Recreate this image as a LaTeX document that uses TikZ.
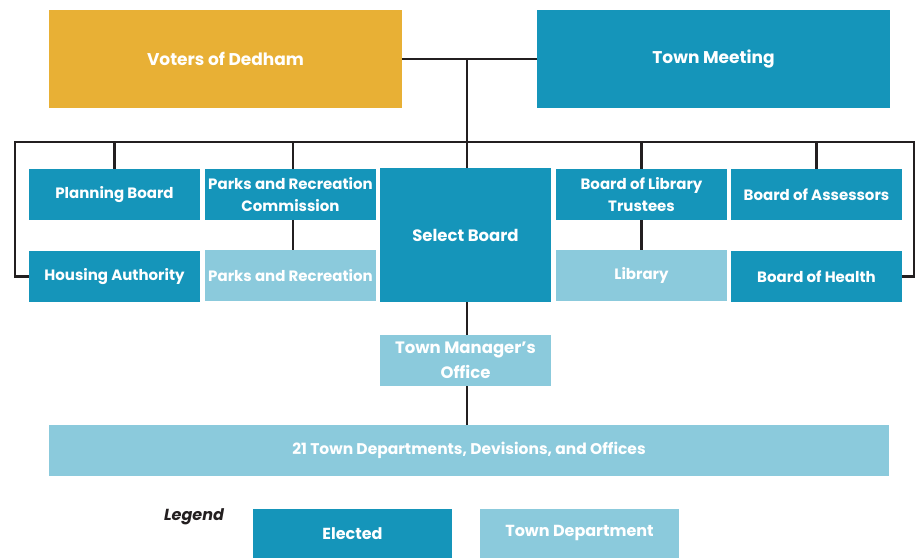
\documentclass[tikz,border=0pt]{standalone}
\usepackage{fontspec}
\setmainfont{Poppins}
\definecolor{elected}{HTML}{1595BA}
\definecolor{dept}{HTML}{8BCADC}
\definecolor{voters}{HTML}{E8B035}
\definecolor{wire}{HTML}{231F20}
\begin{document}
\begin{tikzpicture}[x=1pt,y=-1pt,
  box/.style={draw=none,text=white,font=\bfseries\fontsize{15}{22}\selectfont,align=center,inner sep=0pt},
  bigtext/.style={font=\bfseries\fontsize{16.5}{25}\selectfont},
  toptext/.style={font=\bfseries\fontsize{17}{20}\selectfont},
  electedbox/.style={box,fill=elected},
  deptbox/.style={box,fill=dept},
  wireline/.style={draw=wire,line width=2.4pt}]
\useasboundingbox (0,0) rectangle (919,558);
% a filled box from its corners, label centred
\newcommand{\orgbox}[7]{% name, style, x1, y1, x2, y2, text
  \node[#2,minimum width=#5-#3,minimum height=#6-#4] (#1) at ({(#3+#5)/2},{(#4+#6)/2}) {#7};}
\orgbox{voters}{box,fill=voters,toptext}{49}{10}{402}{108}{Voters of Dedham}
\orgbox{meeting}{electedbox,toptext}{537}{10}{890}{108}{Town Meeting}
\orgbox{planning}{electedbox}{29}{169}{200}{220}{Planning Board}
\orgbox{housing}{electedbox}{29}{251}{200}{302}{Housing Authority}
\orgbox{parkscom}{electedbox}{205}{169}{376}{220}{Parks and Recreation\\Commission}
\orgbox{parks}{deptbox}{205}{250}{376}{301}{Parks and Recreation}
\orgbox{select}{electedbox,bigtext}{380}{168}{551}{302}{Select Board}
\orgbox{trustees}{electedbox}{556}{169}{727}{220}{Board of Library\\Trustees}
\orgbox{library}{deptbox}{556}{250}{727}{301}{Library}
\orgbox{assessors}{electedbox}{731}{169}{902}{220}{Board of Assessors}
\orgbox{health}{electedbox}{731}{251}{902}{302}{Board of Health}
\orgbox{manager}{deptbox,bigtext}{380}{335}{551}{386}{Town Manager’s\\Office}
\orgbox{depts}{deptbox,font=\bfseries\fontsize{15.5}{18}\selectfont}{49}{425}{889}{476}{21 Town Departments, Devisions, and Offices}
\orgbox{legelected}{electedbox,font=\bfseries\fontsize{16}{18}\selectfont}{253}{509}{452}{558}{Elected}
\orgbox{legdept}{deptbox,font=\bfseries\fontsize{16}{18}\selectfont}{480}{509}{679}{558}{Town Department}
\node[font=\bfseries\itshape\fontsize{16}{18}\selectfont,text=wire,inner sep=0pt] (legend) at (194,517) {Legend};
% connectors: the spine runs slightly right of the box centres
\coordinate (spineTop) at ([xshift=1.5]select.north |- voters.east);
\coordinate (spineMid) at ([xshift=1.5]select.north);
\coordinate (spineLow) at ([xshift=1.5]select.south);
\coordinate (prc) at ([xshift=2.5]parkscom.north);
\coordinate (busL) at (15,142);
\coordinate (busR) at (914,142);
\draw[wireline] (voters.east) -- (meeting.west);
\draw[wireline] (spineTop) -- (spineMid);
\draw[wireline] (housing.west) -| (busL) -- (busR) |- (health.east);
\draw[wireline] (planning.north) -- (planning.north |- busL);
\draw[wireline] (prc) -- (prc |- busL);
\draw[wireline] (trustees.north) -- (trustees.north |- busL);
\draw[wireline] (assessors.north) -- (assessors.north |- busL);
\draw[wireline] (prc |- parkscom.south) -- (prc |- parks.north);
\draw[wireline] (trustees.south) -- (library.north);
\draw[wireline] (spineLow) -- (spineLow |- manager.north);
\draw[wireline] (spineLow |- manager.south) -- (spineLow |- depts.north);
\end{tikzpicture}
\end{document}
